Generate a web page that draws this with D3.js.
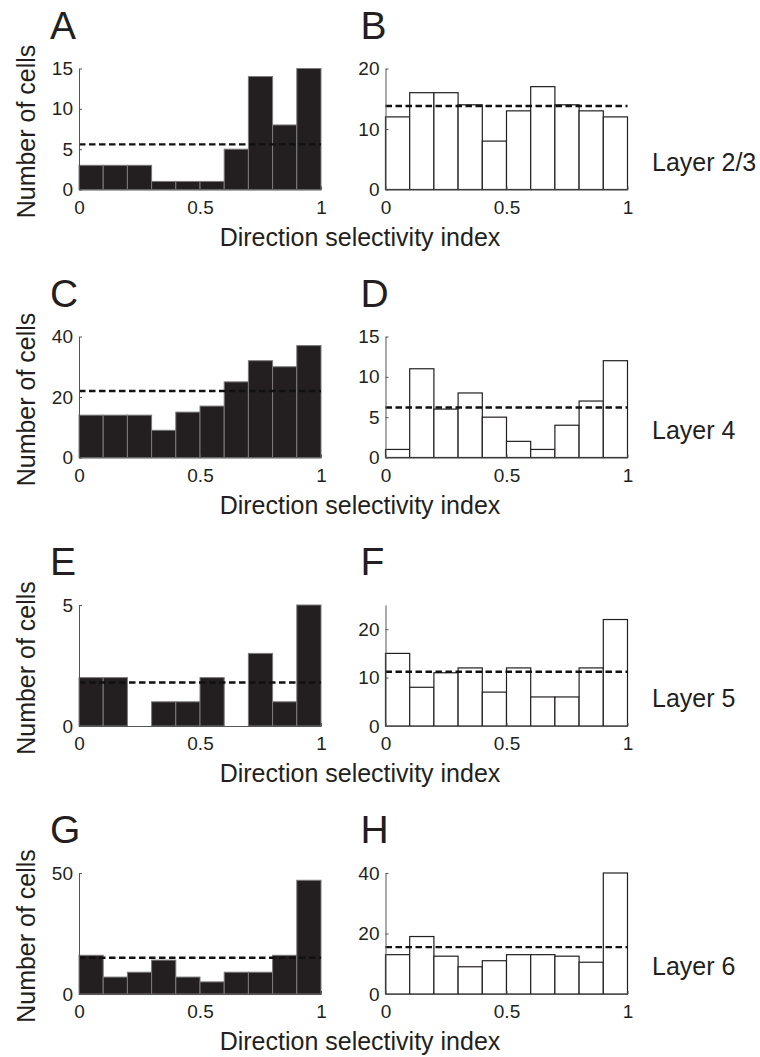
<!DOCTYPE html>
<html lang="en">
<head>
  <meta charset="UTF-8" />
  <title>Direction selectivity histograms by layer</title>
  <script src="https://d3js.org/d3.v7.min.js"></script>
  <style>
    body { margin: 0; background: #fff; }
    svg { display: block; font-family: "Liberation Sans", Arial, Helvetica, sans-serif; }
    .axis path, .axis line { stroke: #555; stroke-width: 1; }
    .axis text { font-size: 19px; fill: #231f20; font-family: "Liberation Sans", Arial, sans-serif; }
    .bar-dark { fill: #231f20; stroke: #7a7a7a; stroke-width: 1; }
    .bar-open { fill: #fff; stroke: #231f20; stroke-width: 1.2; }
    .mean-line { stroke: #111; stroke-width: 2.4; stroke-dasharray: 6.5,3.5; fill: none; }
    .panel-letter { font-size: 39px; fill: #231f20; }
    .label { font-size: 25px; fill: #231f20; }
  </style>
</head>
<body>
  <svg id="chart" width="760" height="1057"></svg>
  <script>
    // bin left edges (direction selectivity index)
    const binEdges = [0, 0.1, 0.2, 0.3, 0.4, 0.5, 0.6, 0.7, 0.8, 0.9];
    const binWidth = 0.1;

    // counts
    const countsA = [3, 3, 3, 1, 1, 1, 5, 14, 8, 15];
    const countsB = [12, 16, 16, 14, 8, 13, 17, 14, 13, 12];
    const countsC = [14, 14, 14, 9, 15, 17, 25, 32, 30, 37];
    const countsD = [1, 11, 6, 8, 5, 2, 1, 4, 7, 12];
    const countsE = [2, 2, 0, 1, 1, 2, 0, 3, 1, 5];
    const countsF = [15, 8, 11, 12, 7, 12, 6, 6, 12, 22];
    const countsG = [16, 7, 9, 14, 7, 5, 9, 9, 16, 47];
    const countsH = [13, 19, 12.5, 9, 11, 13, 13, 12.5, 10.5, 40];

    // dashed reference levels
    const meanA = 5.6, meanB = 13.8, meanC = 22, meanD = 6.2;
    const meanE = 1.8, meanF = 11.2, meanG = 15, meanH = 15.5;

    // y axis limits and ticks
    const yMaxes = [15, 20, 40, 15, 5, 25, 50, 40];
    const yTicks = [[0, 5, 10, 15], [0, 10, 20], [0, 20, 40], [0, 5, 10, 15],
                    [0, 5], [0, 10, 20], [0, 50], [0, 20, 40]];
    const xTicks = [0, 0.5, 1];

    const letters = ['A', 'B', 'C', 'D', 'E', 'F', 'G', 'H'];
    const layerLabels = ['Layer 2/3', 'Layer 4', 'Layer 5', 'Layer 6'];
    const yTitle = 'Number of cells';
    const xTitle = 'Direction selectivity index';

    const allCounts = [countsA, countsB, countsC, countsD, countsE, countsF, countsG, countsH];
    const allMeans = [meanA, meanB, meanC, meanD, meanE, meanF, meanG, meanH];

    // layout
    const colX0 = [79, 385.5];
    const plotW = 242, plotH = 121;
    const rowY0 = [189.5, 457.5, 726, 994];

    const svg = d3.select('#chart');

    letters.forEach((letter, i) => {
      const row = Math.floor(i / 2), col = i % 2;
      const x0 = colX0[col], y0 = rowY0[row];
      const g = svg.append('g');

      const x = d3.scaleLinear().domain([0, 1]).range([x0, x0 + plotW]);
      const y = d3.scaleLinear().domain([0, yMaxes[i]]).range([y0, y0 - plotH]);

      const data = binEdges.map((e, k) => ({ x: e, n: allCounts[i][k] })).filter(d => d.n > 0);

      g.selectAll('rect').data(data).enter().append('rect')
        .attr('class', col === 0 ? 'bar-dark' : 'bar-open')
        .attr('x', d => x(d.x))
        .attr('width', d => x(d.x + binWidth) - x(d.x))
        .attr('y', d => y(d.n))
        .attr('height', d => y(0) - y(d.n));

      g.append('line').attr('class', 'mean-line')
        .attr('x1', x(0)).attr('x2', x(1))
        .attr('y1', y(allMeans[i])).attr('y2', y(allMeans[i]));

      g.append('g').attr('class', 'axis')
        .attr('transform', `translate(${x0},0)`)
        .call(d3.axisLeft(y).tickValues(yTicks[i]).tickFormat(d3.format('d'))
          .tickSizeInner(-3).tickSizeOuter(0).tickPadding(6));

      g.append('g').attr('class', 'axis')
        .attr('transform', `translate(0,${y0})`)
        .call(d3.axisBottom(x).tickValues(xTicks).tickFormat(d => d)
          .tickSizeInner(-3).tickSizeOuter(0).tickPadding(11));

      g.append('text').attr('class', 'panel-letter')
        .attr('x', x0 - (col === 0 ? 29 : 25)).attr('y', y0 - 151)
        .text(letter);

      if (col === 0) {
        g.append('text').attr('class', 'label')
          .attr('transform', `translate(35,${y0 - 58}) rotate(-90)`)
          .attr('text-anchor', 'middle')
          .text(yTitle);
      } else {
        g.append('text').attr('class', 'label')
          .attr('x', 652).attr('y', y0 - 19)
          .text(layerLabels[row]);
      }
    });

    rowY0.forEach(y0 => {
      svg.append('text').attr('class', 'label')
        .attr('x', 360).attr('y', y0 + 56)
        .attr('text-anchor', 'middle')
        .text(xTitle);
    });
  </script>
</body>
</html>
